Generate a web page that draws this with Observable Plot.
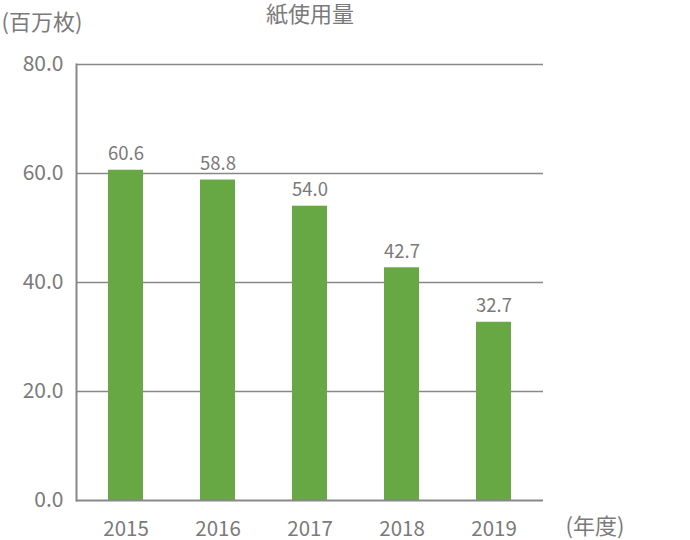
<!DOCTYPE html>
<html>
<head>
<meta charset="utf-8">
<script src="https://cdn.jsdelivr.net/npm/d3@7"></script>
<script src="https://cdn.jsdelivr.net/npm/@observablehq/plot@0.6"></script>
<style>
  body { margin: 0; background: #fff; }
  #chart svg { font-family: "Noto Sans CJK JP", "Noto Sans", sans-serif; }
</style>
</head>
<body>
<div id="chart"></div>
<script>
const years = ["2015", "2016", "2017", "2018", "2019"];
const values = [60.6, 58.8, 54.0, 42.7, 32.7];
const yTicks = [0, 20, 40, 60, 80];
const title = "紙使用量";
const yUnit = "(百万枚)";
const xUnit = "(年度)";

const data = years.map((y, i) => ({year: y, value: values[i]}));
const gray = "#888";
const textGray = "#7a7a7a";

const chart = Plot.plot({
  width: 690,
  height: 540,
  marginLeft: 76,
  marginRight: 147,
  marginTop: 64,
  marginBottom: 40,
  style: {fontSize: "16px", fontFamily: "'Noto Sans CJK JP', 'Noto Sans', sans-serif", background: "#fff"},
  x: {domain: years, paddingInner: 0.62, paddingOuter: 0.33, label: null},
  y: {domain: [0, 80], label: null},
  marks: [
    Plot.ruleY(yTicks.filter(d => d > 0), {stroke: gray, strokeWidth: 1.6}),
    Plot.barY(data, {x: "year", y: "value", fill: "#67a844"}),
    Plot.ruleY([0], {stroke: gray, strokeWidth: 2}),
    Plot.frame({anchor: "left", stroke: gray, strokeWidth: 2}),
    Plot.text(data, {x: "year", y: "value", text: d => d.value.toFixed(1), lineAnchor: "bottom", dy: -10, fill: textGray, fontSize: 18.5}),
    Plot.axisY({ticks: yTicks, tickFormat: d => d.toFixed(1), tickSize: 0, tickPadding: 13, fill: textGray, fontSize: 21, label: null}),
    Plot.axisX({tickSize: 0, tickPadding: 21, fill: textGray, fontSize: 20.5, label: null}),
    Plot.text([title], {frameAnchor: "top", lineAnchor: "middle", dy: -50, fill: textGray, fontSize: 22}),
    Plot.text([yUnit], {frameAnchor: "top-left", lineAnchor: "middle", dx: -75, dy: -42, textAnchor: "start", fill: textGray, fontSize: 22}),
    Plot.text([xUnit], {frameAnchor: "bottom-right", lineAnchor: "middle", dx: 22, dy: 26, textAnchor: "start", fill: textGray, fontSize: 22})
  ]
});
document.getElementById("chart").appendChild(chart);
</script>
</body>
</html>
